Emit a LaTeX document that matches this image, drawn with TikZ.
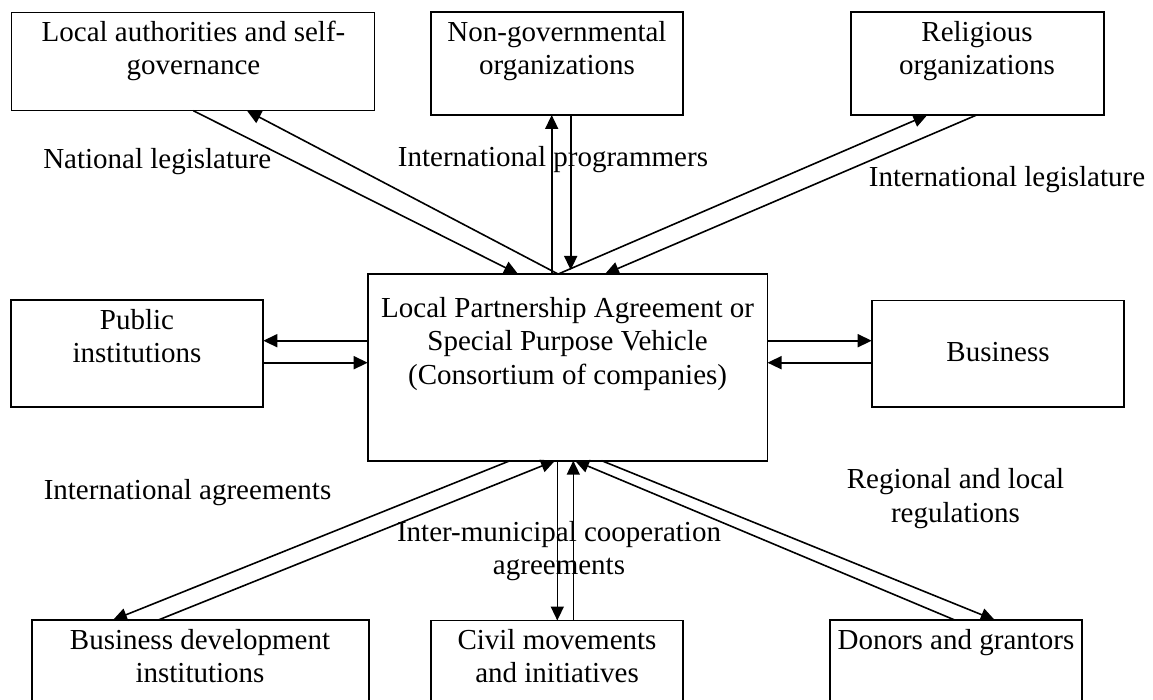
\documentclass[tikz,border=0pt]{standalone}
\usepackage{fontspec}
\setmainfont{Liberation Serif}
\usetikzlibrary{arrows.meta,calc}
\begin{document}
\begin{tikzpicture}[x=1pt,y=-1pt,
  box/.style={draw, line width=1.7pt, anchor=north west, inner sep=0pt, outer sep=0pt},
  txt/.style={font=\fontsize{29}{33.5}\selectfont, align=center, anchor=north, inner sep=0pt},
  conn/.style={line width=1.6pt, -{Triangle[length=14pt,width=13pt]}}
]
\useasboundingbox (0,0) rectangle (1153,700);
\fill[white] (0,0) rectangle (1153,700);
\clip (0,0) rectangle (1153,700);

% boxes
\node[box, line width=1.2pt, minimum width=363pt, minimum height=98pt] (la) at (11.3,12.7) {};
\node[box, minimum width=252.3pt, minimum height=102.7pt] (ngo) at (431,12.3) {};
\node[box, minimum width=253pt, minimum height=102.7pt] (rel) at (851,12.3) {};
\node[box, minimum width=399.8pt, minimum height=186.7pt] (cen) at (367.7,274) {};
\node[box, minimum width=252.3pt, minimum height=106.7pt] (pub) at (11,300.3) {};
\node[box, minimum width=252.6pt, minimum height=106.7pt] (bus) at (871.7,300.5) {};
\node[box, minimum width=336.7pt, minimum height=100pt] (bdi) at (32,620) {};
\node[box, minimum width=252.3pt, minimum height=100pt] (civ) at (431,620.5) {};
\node[box, minimum width=252.3pt, minimum height=100pt] (don) at (830,620) {};

% box texts
\node[txt] (t-la) at (193.5,20.7) {Local authorities and self-\\governance};
\node[txt] (t-ngo) at (557,20.7) {Non-governmental\\organizations};
\node[txt] (t-rel) at (977,20.7) {Religious\\organizations};
\node[txt] (t-cen) at (567.6,297) {Local Partnership Agreement or\\Special Purpose Vehicle\\(Consortium of companies)};
\node[txt] (t-pub) at (137,309) {Public\\institutions};
\node[txt] (t-bus) at (998,341.7) {Business};
\node[txt] (t-bdi) at (200,629) {Business development\\institutions};
\node[txt] (t-civ) at (557,629) {Civil movements\\and initiatives};
\node[txt] (t-don) at (956,629) {Donors and grantors};

% connector labels
\node[txt] (l-nat) at (157.2,148.3) {National legislature};
\node[txt] (l-prog) at (553,145.7) {International programmers};
\node[txt] (l-intl) at (1007,165.7) {International legislature};
\node[txt] (l-agr) at (187.5,479) {International agreements};
\node[txt] (l-imc) at (559,520.7) {Inter-municipal cooperation\\agreements};
\node[txt] (l-reg) at (955.5,468.3) {Regional and local\\regulations};

% connectors
\draw[conn] (la.south -| 193.3,0) -- (cen.north -| 518,0);
\draw[conn] (cen.north -| 558,0) -- (la.south -| 247,0);
\draw[conn] (cen.north -| 551.7,0) -- (ngo.south -| 551.7,0);
\draw[conn, shorten >=4pt] (ngo.south -| 570.7,0) -- (cen.north -| 570.7,0);
\draw[conn] (cen.north -| 558.3,0) -- (rel.south -| 927.3,0);
\draw[conn] (rel.south -| 976.7,0) -- (cen.north -| 605,0);

\draw[conn] (cen.west |- 0,340.7) -- (pub.east |- 0,340.7);
\draw[conn] (pub.east |- 0,362.7) -- (cen.west |- 0,362.7);
\draw[conn] (cen.east |- 0,340.7) -- (bus.west |- 0,340.7);
\draw[conn] (bus.west |- 0,362.7) -- (cen.east |- 0,362.7);

\draw[conn] (cen.south -| 510,0) -- (bdi.north -| 113,0);
\draw[conn] (bdi.north -| 158.3,0) -- (cen.south -| 555,0);
\draw[conn] (cen.south -| 557.3,0) -- (civ.north -| 557.3,0);
\draw[conn] (civ.north -| 573.3,0) -- (cen.south -| 573.3,0);
\draw[conn] (cen.south -| 601.7,0) -- (don.north -| 994.7,0);
\draw[conn] (don.north -| 954.7,0) -- (cen.south -| 575,0);
\end{tikzpicture}
\end{document}
